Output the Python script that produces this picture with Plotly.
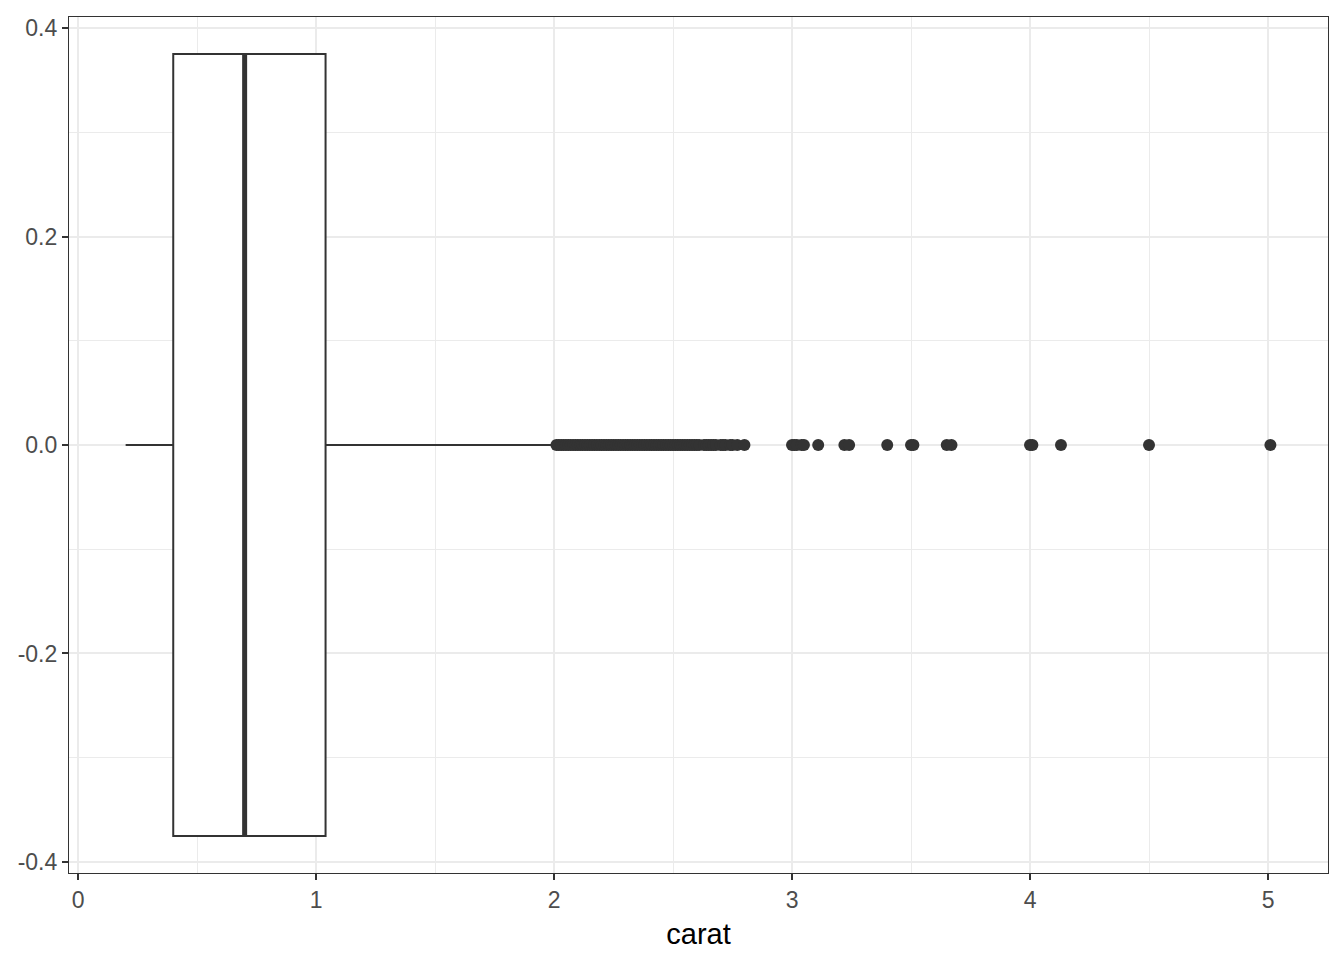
import plotly.graph_objects as go

# Box statistics (carat)
q1 = 0.40
median = 0.70
q3 = 1.04
lower_whisker = 0.20
upper_whisker = 2.00
box_width = 0.75

# Outliers above the upper whisker
outliers = [
    2.01, 2.02, 2.03, 2.04, 2.05, 2.06, 2.07, 2.08, 2.09, 2.10,
    2.11, 2.12, 2.13, 2.14, 2.15, 2.16, 2.17, 2.18, 2.19, 2.20,
    2.21, 2.22, 2.23, 2.24, 2.25, 2.26, 2.27, 2.28, 2.29, 2.30,
    2.31, 2.32, 2.33, 2.34, 2.35, 2.36, 2.37, 2.38, 2.39, 2.40,
    2.41, 2.42, 2.43, 2.44, 2.45, 2.46, 2.47, 2.48, 2.49, 2.50,
    2.51, 2.52, 2.53, 2.54, 2.55, 2.56, 2.57, 2.58, 2.59, 2.60,
    2.61, 2.63, 2.64, 2.65, 2.66, 2.67, 2.68, 2.70, 2.71, 2.72,
    2.74, 2.75, 2.77, 2.80,
    3.00, 3.01, 3.02, 3.04, 3.05, 3.11, 3.22, 3.24, 3.40, 3.50,
    3.51, 3.65, 3.67, 4.00, 4.01, 4.13, 4.50, 5.01,
]

x_ticks = [0, 1, 2, 3, 4, 5]
y_ticks = [0.4, 0.2, 0.0, -0.2, -0.4]
y_tick_labels = ["0.4", "0.2", "0.0", "-0.2", "-0.4"]

DARK = "#333333"
GRID = "#EBEBEB"

fig = go.Figure()

fig.add_trace(go.Box(
    y=[0], orientation="h",
    q1=[q1], median=[median], q3=[q3],
    lowerfence=[lower_whisker], upperfence=[upper_whisker],
    width=box_width, whiskerwidth=0,
    fillcolor="white", line=dict(color=DARK, width=2),
    boxpoints=False, showlegend=False,
))

# thicker median line, as ggplot draws it
fig.add_trace(go.Scatter(
    x=[median, median], y=[-box_width / 2, box_width / 2],
    mode="lines", line=dict(color=DARK, width=5),
    showlegend=False, hoverinfo="skip",
))

fig.add_trace(go.Scatter(
    x=outliers, y=[0] * len(outliers), mode="markers",
    marker=dict(color=DARK, size=12, line=dict(width=0)),
    showlegend=False,
))

fig.update_xaxes(
    range=[-0.038, 5.252], tickvals=x_ticks, automargin=False,
    showgrid=True, gridcolor=GRID, gridwidth=2,
    minor=dict(dtick=0.5, tick0=0, showgrid=True, gridcolor=GRID, gridwidth=1),
    zeroline=False, showline=True, mirror=True, linecolor=DARK, linewidth=1.2,
    ticks="outside", ticklen=6, tickcolor=DARK, tickwidth=2,
    tickfont=dict(size=23, color="#4D4D4D"),
    title=dict(text="carat", font=dict(size=29, color="black"), standoff=11),
)
fig.update_yaxes(
    range=[-0.4106, 0.4106], tickvals=y_ticks, ticktext=y_tick_labels,
    automargin=False,
    showgrid=True, gridcolor=GRID, gridwidth=2,
    minor=dict(dtick=0.1, tick0=0.1, showgrid=True, gridcolor=GRID, gridwidth=1),
    zeroline=False, showline=True, mirror=True, linecolor=DARK, linewidth=1.2,
    ticks="outside", ticklen=6, tickcolor=DARK, tickwidth=2,
    tickfont=dict(size=23, color="#4D4D4D"),
)

# page adds an 8px body margin, so shift the plot area back into place
fig.update_layout(
    width=1344, height=960,
    margin=dict(l=61, r=24, t=9, b=95),
    plot_bgcolor="white", paper_bgcolor="white",
    font=dict(family="Liberation Sans, Arial, sans-serif"),
    showlegend=False,
)

fig.write_html("out.html")
